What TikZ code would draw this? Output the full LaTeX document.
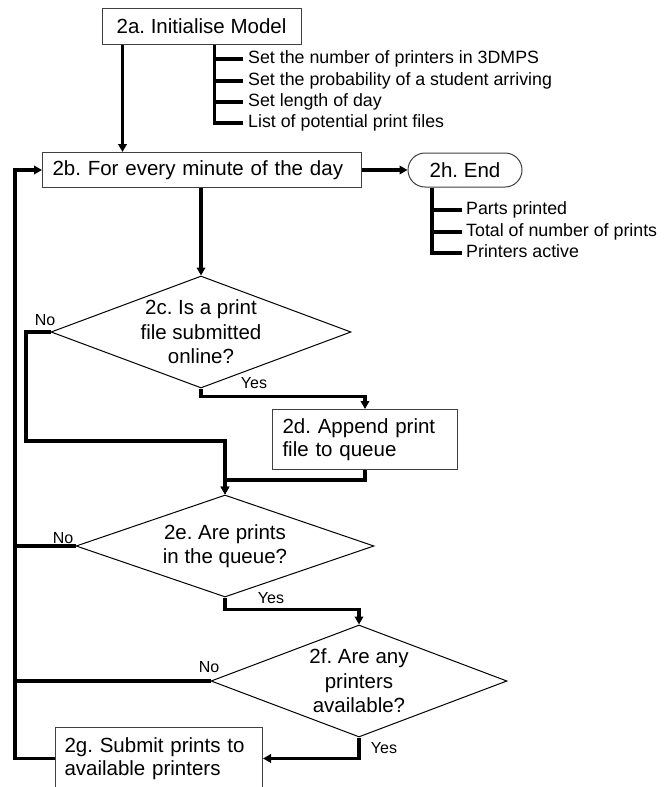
\documentclass[tikz,border=0pt]{standalone}
\usepackage{fontspec}
\setmainfont{Liberation Sans}
\usetikzlibrary{arrows.meta,shapes.geometric}
\frenchspacing
\begin{document}
\begin{tikzpicture}[x=1pt,y=-1pt,
  box/.style={draw=black!75,line width=1pt,fill=white,inner ysep=0pt,
    font=\fontsize{20.5}{23.5}\selectfont},
  dia/.style={draw=black,line width=1pt,shape=diamond,inner sep=0pt,aspect=2.6},
  diatext/.style={align=center,inner sep=0pt,font=\fontsize{20.5}{24.5}\selectfont},
  conn/.style={line width=3.3pt,line join=miter},
  arr/.style={conn,-{Triangle[length=8pt,width=8.5pt]}},
  brtext/.style={anchor=west,inner sep=0pt,text height=12.5pt,text depth=4pt,
    font=\fontsize{17.8}{20}\selectfont},
  yn/.style={inner sep=0pt,font=\fontsize{16}{18}\selectfont}
]
\useasboundingbox (0,0) rectangle (671,787);
\clip (0,0) rectangle (671,787);

% boxes
\node[box,minimum width=199pt,minimum height=36pt] (a) at (201.5,26) {2a. Initialise Model};
\node[box,anchor=north west,minimum height=35pt,text width=299pt,inner xsep=10pt,align=left] (b) at (42,152) {2b. For every minute of the day};
\node[box,rounded corners=17pt,minimum width=114pt,minimum height=34pt] (h) at (465,170) {2h. End};
\node[box,anchor=north west,minimum height=60pt,text width=165pt,inner xsep=10pt,align=left] (d) at (272,409) {2d. Append print\\file to queue};
\node[box,anchor=north west,minimum height=62pt,text width=189pt,inner xsep=9pt,align=left] (g) at (55,727) {2g. Submit prints to\\available printers};

% diamonds
\node[dia,minimum width=300pt,minimum height=112pt] (c) at (201,332) {};
\node[diatext] (ct) at (c.center) {2c. Is a print\\file submitted\\online?};
\node[dia,minimum width=298pt,minimum height=102pt] (e) at (225,546) {};
\node[diatext] (et) at (e.center) {2e. Are prints\\in the queue?};
\node[dia,minimum width=296pt,minimum height=112pt] (f) at (359,681) {};
\node[diatext] (ft) at (f.center) {2f. Are any\\printers\\available?};

% branch texts of 2a
\node[brtext] (a1) at (248,59) {Set the number of printers in 3DMPS};
\node[brtext] (a2) at (248,81) {Set the probability of a student arriving};
\node[brtext] (a3) at (248,102) {Set length of day};
\node[brtext] (a4) at (248,123) {List of potential print files};
\coordinate (abr) at ([xshift=113pt]a.south west);
\draw[conn] (abr) |- ([xshift=-5pt]a4.west);
\foreach \t in {a1,a2,a3} \draw[conn] (abr |- \t.west) -- ([xshift=-5pt]\t.west);

% branch texts of 2h
\node[brtext] (h1) at (466,210) {Parts printed};
\node[brtext] (h2) at (466,232) {Total of number of prints};
\node[brtext] (h3) at (466,253) {Printers active};
\coordinate (hbr) at ([xshift=-33pt]h.south);
\draw[conn] (hbr) |- ([xshift=-4pt]h3.west);
\foreach \t in {h1,h2} \draw[conn] (hbr |- \t.west) -- ([xshift=-4pt]\t.west);

% loop line
\coordinate (loopx) at (15,0);

% connectors
\draw[arr] ([xshift=21pt]a.south west) -- ([xshift=21pt]a.south west |- b.north);
\draw[arr] (b.east) -- (b.east -| h.west);
\draw[arr] (c.north |- b.south) -- (c.north);

\draw[arr] (c.west) -| (26,441) -| (e.north);
\draw[arr] (c.south) -- ++(0,8) -| (d.north);
\draw[arr] (d.south) -- ++(0,10) -| (e.north);

\draw[conn] (e.west) -- (e.west -| loopx);
\draw[arr] (e.south) -- ++(0,12) -| (f.north);

\draw[conn] (f.west) -- (f.west -| loopx);
\draw[arr] (f.south) |- (g.east);

\draw[arr] (g.west) -- (g.west -| loopx) |- (b.west);

% yes / no labels
\node[yn] (n1) at (45,320) {No};
\node[yn] (y1) at (254,383) {Yes};
\node[yn] (n2) at (63,538) {No};
\node[yn] (y2) at (271,598) {Yes};
\node[yn] (n3) at (209,667) {No};
\node[yn] (y3) at (384,748) {Yes};
\end{tikzpicture}
\end{document}
